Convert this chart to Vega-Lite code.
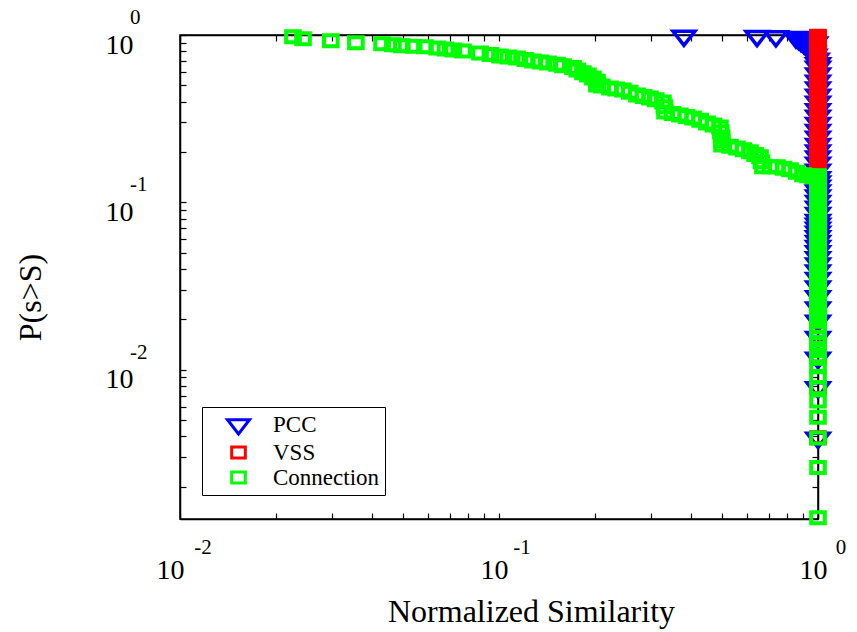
{
  "$schema": "https://vega.github.io/schema/vega-lite/v6.json",
  "width": 638,
  "height": 484,
  "autosize": {"type": "none"},
  "padding": {"left": 180, "top": 35, "right": 39, "bottom": 113},
  "background": "white",
  "config": {
    "view": {"stroke": "black", "strokeWidth": 1.5},
    "font": "'Liberation Serif', 'Times New Roman', Times, serif",
    "axis": {
      "domainColor": "black",
      "domainWidth": 1.5,
      "tickColor": "black",
      "tickWidth": 1.2,
      "tickSize": -6,
      "grid": false,
      "labelColor": "black",
      "labelFont": "'Liberation Serif', 'Times New Roman', Times, serif",
      "labelFontSize": 28,
      "titleFont": "'Liberation Serif', 'Times New Roman', Times, serif",
      "titleFontSize": 32,
      "titleFontWeight": "normal",
      "titleColor": "black",
      "labelFlush": false,
      "labelOverlap": false,
      "labelBound": false
    }
  },
  "datasets": {
    "points": [
      {"series": "PCC", "s": 1, "p": 0.00391},
      {"series": "PCC", "s": 1, "p": 0.00781},
      {"series": "PCC", "s": 1, "p": 0.01172},
      {"series": "PCC", "s": 1, "p": 0.01563},
      {"series": "PCC", "s": 1, "p": 0.01953},
      {"series": "PCC", "s": 1, "p": 0.02344},
      {"series": "PCC", "s": 1, "p": 0.02734},
      {"series": "PCC", "s": 1, "p": 0.03125},
      {"series": "PCC", "s": 1, "p": 0.03516},
      {"series": "PCC", "s": 1, "p": 0.03906},
      {"series": "PCC", "s": 1, "p": 0.04297},
      {"series": "PCC", "s": 1, "p": 0.04688},
      {"series": "PCC", "s": 1, "p": 0.05078},
      {"series": "PCC", "s": 1, "p": 0.05469},
      {"series": "PCC", "s": 1, "p": 0.05859},
      {"series": "PCC", "s": 1, "p": 0.0625},
      {"series": "PCC", "s": 1, "p": 0.06641},
      {"series": "PCC", "s": 1, "p": 0.07031},
      {"series": "PCC", "s": 1, "p": 0.07422},
      {"series": "PCC", "s": 1, "p": 0.07813},
      {"series": "PCC", "s": 1, "p": 0.08594},
      {"series": "PCC", "s": 1, "p": 0.09375},
      {"series": "PCC", "s": 1, "p": 0.10156},
      {"series": "PCC", "s": 1, "p": 0.10938},
      {"series": "PCC", "s": 1, "p": 0.11719},
      {"series": "PCC", "s": 1, "p": 0.125},
      {"series": "PCC", "s": 1, "p": 0.13281},
      {"series": "PCC", "s": 1, "p": 0.14063},
      {"series": "PCC", "s": 1, "p": 0.15625},
      {"series": "PCC", "s": 1, "p": 0.17188},
      {"series": "PCC", "s": 1, "p": 0.1875},
      {"series": "PCC", "s": 1, "p": 0.20313},
      {"series": "PCC", "s": 1, "p": 0.22266},
      {"series": "PCC", "s": 1, "p": 0.24609},
      {"series": "PCC", "s": 1, "p": 0.26953},
      {"series": "PCC", "s": 1, "p": 0.29688},
      {"series": "PCC", "s": 1, "p": 0.32813},
      {"series": "PCC", "s": 1, "p": 0.35938},
      {"series": "PCC", "s": 1, "p": 0.39844},
      {"series": "PCC", "s": 1, "p": 0.4375},
      {"series": "PCC", "s": 1, "p": 0.48438},
      {"series": "PCC", "s": 1, "p": 0.53125},
      {"series": "PCC", "s": 1, "p": 0.58594},
      {"series": "PCC", "s": 1, "p": 0.64453},
      {"series": "PCC", "s": 1, "p": 0.67578},
      {"series": "PCC", "s": 0.99, "p": 0.72},
      {"series": "PCC", "s": 0.975, "p": 0.76},
      {"series": "PCC", "s": 0.965, "p": 0.79},
      {"series": "PCC", "s": 0.953, "p": 0.82},
      {"series": "PCC", "s": 0.94, "p": 0.85},
      {"series": "PCC", "s": 0.925, "p": 0.87},
      {"series": "PCC", "s": 0.904, "p": 0.89},
      {"series": "PCC", "s": 0.885, "p": 0.92},
      {"series": "PCC", "s": 0.87, "p": 0.945},
      {"series": "PCC", "s": 0.853, "p": 0.965},
      {"series": "PCC", "s": 0.9, "p": 0.97},
      {"series": "PCC", "s": 0.95, "p": 0.96},
      {"series": "PCC", "s": 0.98, "p": 0.9},
      {"series": "PCC", "s": 0.738, "p": 0.98},
      {"series": "PCC", "s": 0.644, "p": 0.984},
      {"series": "PCC", "s": 0.38, "p": 0.988},

      {"series": "VSS", "s": 1, "p": 0.00391},
      {"series": "VSS", "s": 1, "p": 0.00781},
      {"series": "VSS", "s": 1, "p": 0.01172},
      {"series": "VSS", "s": 1, "p": 0.01563},
      {"series": "VSS", "s": 1, "p": 0.01953},
      {"series": "VSS", "s": 1, "p": 0.02344},
      {"series": "VSS", "s": 1, "p": 0.02734},
      {"series": "VSS", "s": 1, "p": 0.03125},
      {"series": "VSS", "s": 1, "p": 0.03516},
      {"series": "VSS", "s": 1, "p": 0.03906},
      {"series": "VSS", "s": 1, "p": 0.04297},
      {"series": "VSS", "s": 1, "p": 0.04688},
      {"series": "VSS", "s": 1, "p": 0.05469},
      {"series": "VSS", "s": 1, "p": 0.0625},
      {"series": "VSS", "s": 1, "p": 0.07031},
      {"series": "VSS", "s": 1, "p": 0.07813},
      {"series": "VSS", "s": 1, "p": 0.08594},
      {"series": "VSS", "s": 1, "p": 0.09375},
      {"series": "VSS", "s": 1, "p": 0.10156},
      {"series": "VSS", "s": 1, "p": 0.10938},
      {"series": "VSS", "s": 1, "p": 0.11719},
      {"series": "VSS", "s": 1, "p": 0.125},
      {"series": "VSS", "s": 1, "p": 0.13281},
      {"series": "VSS", "s": 1, "p": 0.14063},
      {"series": "VSS", "s": 1, "p": 0.14844},
      {"series": "VSS", "s": 1, "p": 0.15625},
      {"series": "VSS", "s": 1, "p": 0.16406},
      {"series": "VSS", "s": 1, "p": 0.17188},
      {"series": "VSS", "s": 1, "p": 0.17969},
      {"series": "VSS", "s": 1, "p": 0.1875},
      {"series": "VSS", "s": 1, "p": 0.19531},
      {"series": "VSS", "s": 1, "p": 0.20313},
      {"series": "VSS", "s": 1, "p": 0.21094},
      {"series": "VSS", "s": 1, "p": 0.22266},
      {"series": "VSS", "s": 1, "p": 0.23438},
      {"series": "VSS", "s": 1, "p": 0.24609},
      {"series": "VSS", "s": 1, "p": 0.25781},
      {"series": "VSS", "s": 1, "p": 0.26953},
      {"series": "VSS", "s": 1, "p": 0.28125},
      {"series": "VSS", "s": 1, "p": 0.29688},
      {"series": "VSS", "s": 1, "p": 0.3125},
      {"series": "VSS", "s": 1, "p": 0.32813},
      {"series": "VSS", "s": 1, "p": 0.34375},
      {"series": "VSS", "s": 1, "p": 0.35938},
      {"series": "VSS", "s": 1, "p": 0.37891},
      {"series": "VSS", "s": 1, "p": 0.39844},
      {"series": "VSS", "s": 1, "p": 0.41797},
      {"series": "VSS", "s": 1, "p": 0.4375},
      {"series": "VSS", "s": 1, "p": 0.46094},
      {"series": "VSS", "s": 1, "p": 0.48438},
      {"series": "VSS", "s": 1, "p": 0.50781},
      {"series": "VSS", "s": 1, "p": 0.53125},
      {"series": "VSS", "s": 1, "p": 0.55859},
      {"series": "VSS", "s": 1, "p": 0.58594},
      {"series": "VSS", "s": 1, "p": 0.61328},
      {"series": "VSS", "s": 1, "p": 0.64453},
      {"series": "VSS", "s": 1, "p": 0.67578},
      {"series": "VSS", "s": 1, "p": 0.70703},
      {"series": "VSS", "s": 1, "p": 0.74219},
      {"series": "VSS", "s": 1, "p": 0.77734},
      {"series": "VSS", "s": 1, "p": 0.8125},
      {"series": "VSS", "s": 1, "p": 0.85156},
      {"series": "VSS", "s": 1, "p": 0.89063},
      {"series": "VSS", "s": 1, "p": 0.92969},
      {"series": "VSS", "s": 1, "p": 0.96875},
      {"series": "VSS", "s": 1, "p": 0.98438},

      {"series": "Connection", "s": 1, "p": 0.0013},
      {"series": "Connection", "s": 1, "p": 0.0026},
      {"series": "Connection", "s": 1, "p": 0.0039},
      {"series": "Connection", "s": 1, "p": 0.00519},
      {"series": "Connection", "s": 1, "p": 0.00649},
      {"series": "Connection", "s": 1, "p": 0.00779},
      {"series": "Connection", "s": 1, "p": 0.00909},
      {"series": "Connection", "s": 1, "p": 0.01039},
      {"series": "Connection", "s": 1, "p": 0.01169},
      {"series": "Connection", "s": 1, "p": 0.01299},
      {"series": "Connection", "s": 1, "p": 0.01429},
      {"series": "Connection", "s": 1, "p": 0.01558},
      {"series": "Connection", "s": 1, "p": 0.01688},
      {"series": "Connection", "s": 1, "p": 0.01818},
      {"series": "Connection", "s": 1, "p": 0.01948},
      {"series": "Connection", "s": 1, "p": 0.02078},
      {"series": "Connection", "s": 1, "p": 0.02208},
      {"series": "Connection", "s": 1, "p": 0.02338},
      {"series": "Connection", "s": 1, "p": 0.02468},
      {"series": "Connection", "s": 1, "p": 0.02597},
      {"series": "Connection", "s": 1, "p": 0.02727},
      {"series": "Connection", "s": 1, "p": 0.02857},
      {"series": "Connection", "s": 1, "p": 0.02987},
      {"series": "Connection", "s": 1, "p": 0.03117},
      {"series": "Connection", "s": 1, "p": 0.03247},
      {"series": "Connection", "s": 1, "p": 0.03377},
      {"series": "Connection", "s": 1, "p": 0.03506},
      {"series": "Connection", "s": 1, "p": 0.03636},
      {"series": "Connection", "s": 1, "p": 0.03766},
      {"series": "Connection", "s": 1, "p": 0.03896},
      {"series": "Connection", "s": 1, "p": 0.04156},
      {"series": "Connection", "s": 1, "p": 0.04416},
      {"series": "Connection", "s": 1, "p": 0.04675},
      {"series": "Connection", "s": 1, "p": 0.04935},
      {"series": "Connection", "s": 1, "p": 0.05195},
      {"series": "Connection", "s": 1, "p": 0.05455},
      {"series": "Connection", "s": 1, "p": 0.05714},
      {"series": "Connection", "s": 1, "p": 0.05974},
      {"series": "Connection", "s": 1, "p": 0.06234},
      {"series": "Connection", "s": 1, "p": 0.06494},
      {"series": "Connection", "s": 1, "p": 0.06753},
      {"series": "Connection", "s": 1, "p": 0.07013},
      {"series": "Connection", "s": 1, "p": 0.07273},
      {"series": "Connection", "s": 1, "p": 0.07532},
      {"series": "Connection", "s": 1, "p": 0.07792},
      {"series": "Connection", "s": 1, "p": 0.08182},
      {"series": "Connection", "s": 1, "p": 0.08571},
      {"series": "Connection", "s": 1, "p": 0.08961},
      {"series": "Connection", "s": 1, "p": 0.09351},
      {"series": "Connection", "s": 1, "p": 0.0974},
      {"series": "Connection", "s": 1, "p": 0.1013},
      {"series": "Connection", "s": 1, "p": 0.10519},
      {"series": "Connection", "s": 1, "p": 0.10909},
      {"series": "Connection", "s": 1, "p": 0.11299},
      {"series": "Connection", "s": 1, "p": 0.11688},
      {"series": "Connection", "s": 1, "p": 0.12078},
      {"series": "Connection", "s": 1, "p": 0.12468},
      {"series": "Connection", "s": 1, "p": 0.12857},
      {"series": "Connection", "s": 1, "p": 0.13247},
      {"series": "Connection", "s": 1, "p": 0.13636},
      {"series": "Connection", "s": 1, "p": 0.14026},
      {"series": "Connection", "s": 1, "p": 0.14416},
      {"series": "Connection", "s": 0.9645, "p": 0.142},
      {"series": "Connection", "s": 0.93, "p": 0.144},
      {"series": "Connection", "s": 0.8975, "p": 0.1459},
      {"series": "Connection", "s": 0.857, "p": 0.151},
      {"series": "Connection", "s": 0.817, "p": 0.1563},
      {"series": "Connection", "s": 0.78, "p": 0.16},
      {"series": "Connection", "s": 0.7438, "p": 0.1629},
      {"series": "Connection", "s": 0.71, "p": 0.1629},
      {"series": "Connection", "s": 0.6723, "p": 0.1629},
      {"series": "Connection", "s": 0.665, "p": 0.175},
      {"series": "Connection", "s": 0.658, "p": 0.1869},
      {"series": "Connection", "s": 0.635, "p": 0.193},
      {"series": "Connection", "s": 0.6119, "p": 0.2002},
      {"series": "Connection", "s": 0.584, "p": 0.206},
      {"series": "Connection", "s": 0.5572, "p": 0.2115},
      {"series": "Connection", "s": 0.53, "p": 0.216},
      {"series": "Connection", "s": 0.5001, "p": 0.2204},
      {"series": "Connection", "s": 0.4995, "p": 0.233},
      {"series": "Connection", "s": 0.4985, "p": 0.246},
      {"series": "Connection", "s": 0.496, "p": 0.264},
      {"series": "Connection", "s": 0.4929, "p": 0.2823},
      {"series": "Connection", "s": 0.47, "p": 0.29},
      {"series": "Connection", "s": 0.4487, "p": 0.2983},
      {"series": "Connection", "s": 0.427, "p": 0.309},
      {"series": "Connection", "s": 0.4057, "p": 0.3195},
      {"series": "Connection", "s": 0.387, "p": 0.326},
      {"series": "Connection", "s": 0.3693, "p": 0.333},
      {"series": "Connection", "s": 0.35, "p": 0.34},
      {"series": "Connection", "s": 0.3314, "p": 0.347},
      {"series": "Connection", "s": 0.33, "p": 0.372},
      {"series": "Connection", "s": 0.3266, "p": 0.398},
      {"series": "Connection", "s": 0.31, "p": 0.41},
      {"series": "Connection", "s": 0.2974, "p": 0.4206},
      {"series": "Connection", "s": 0.284, "p": 0.429},
      {"series": "Connection", "s": 0.2708, "p": 0.4384},
      {"series": "Connection", "s": 0.257, "p": 0.455},
      {"series": "Connection", "s": 0.2446, "p": 0.4695},
      {"series": "Connection", "s": 0.233, "p": 0.476},
      {"series": "Connection", "s": 0.2228, "p": 0.483},
      {"series": "Connection", "s": 0.21, "p": 0.495},
      {"series": "Connection", "s": 0.2028, "p": 0.503},
      {"series": "Connection", "s": 0.2028, "p": 0.53},
      {"series": "Connection", "s": 0.197, "p": 0.554},
      {"series": "Connection", "s": 0.19, "p": 0.577},
      {"series": "Connection", "s": 0.1833, "p": 0.595},
      {"series": "Connection", "s": 0.176, "p": 0.618},
      {"series": "Connection", "s": 0.1706, "p": 0.64},
      {"series": "Connection", "s": 0.1587, "p": 0.655},
      {"series": "Connection", "s": 0.152, "p": 0.668},
      {"series": "Connection", "s": 0.1424, "p": 0.681},
      {"series": "Connection", "s": 0.135, "p": 0.69},
      {"series": "Connection", "s": 0.1278, "p": 0.7},
      {"series": "Connection", "s": 0.121, "p": 0.714},
      {"series": "Connection", "s": 0.1139, "p": 0.729},
      {"series": "Connection", "s": 0.107, "p": 0.74},
      {"series": "Connection", "s": 0.1007, "p": 0.749},
      {"series": "Connection", "s": 0.094, "p": 0.765},
      {"series": "Connection", "s": 0.0872, "p": 0.781},
      {"series": "Connection", "s": 0.0771, "p": 0.803},
      {"series": "Connection", "s": 0.0718, "p": 0.814},
      {"series": "Connection", "s": 0.068, "p": 0.825},
      {"series": "Connection", "s": 0.064, "p": 0.836},
      {"series": "Connection", "s": 0.0586, "p": 0.852},
      {"series": "Connection", "s": 0.054, "p": 0.857},
      {"series": "Connection", "s": 0.0496, "p": 0.862},
      {"series": "Connection", "s": 0.0465, "p": 0.875},
      {"series": "Connection", "s": 0.043, "p": 0.886},
      {"series": "Connection", "s": 0.0356, "p": 0.9},
      {"series": "Connection", "s": 0.0297, "p": 0.925},
      {"series": "Connection", "s": 0.0243, "p": 0.95},
      {"series": "Connection", "s": 0.0226, "p": 0.977}
    ],
    "xexp": [
      {"tick": 0.01, "e": "-2"},
      {"tick": 0.1, "e": "-1"},
      {"tick": 1, "e": "0"}
    ],
    "yexp": [
      {"tick": 0.01, "e": "-2"},
      {"tick": 0.1, "e": "-1"},
      {"tick": 1, "e": "0"}
    ]
  },
  "layer": [
    {
      "data": {"name": "points"},
      "transform": [{"filter": "datum.series == 'PCC'"}],
      "mark": {"type": "point", "filled": false, "strokeWidth": 3.5, "size": 484, "opacity": 1},
      "encoding": {
        "x": {
          "field": "s", "type": "quantitative",
          "scale": {"type": "log", "domain": [0.01, 1], "nice": false},
          "axis": {
            "orient": "bottom",
            "values": [0.01, 0.02, 0.03, 0.04, 0.05, 0.06, 0.07, 0.08, 0.09, 0.1, 0.2, 0.3, 0.4, 0.5, 0.6, 0.7, 0.8, 0.9, 1],
            "labelExpr": "datum.value == 0.01 || datum.value == 0.1 || datum.value == 1 ? '10' : ''",
            "labelPadding": 43,
            "labelBaseline": "top",
            "labelOffset": {"expr": "datum.value == 0.01 ? -10 : -5"},
            "title": "Normalized Similarity",
            "titleX": 351,
            "titleY": 102,
            "titleBaseline": "alphabetic"
          }
        },
        "y": {
          "field": "p", "type": "quantitative",
          "scale": {"type": "log", "domain": [0.00128, 1], "nice": false},
          "axis": {
            "orient": "left",
            "values": [0.002, 0.003, 0.004, 0.005, 0.006, 0.007, 0.008, 0.009, 0.01, 0.02, 0.03, 0.04, 0.05, 0.06, 0.07, 0.08, 0.09, 0.1, 0.2, 0.3, 0.4, 0.5, 0.6, 0.7, 0.8, 0.9, 1],
            "labelExpr": "datum.value == 0.01 || datum.value == 0.1 || datum.value == 1 ? '10' : ''",
            "labelPadding": 53,
            "labelAlign": "right",
            "labelBaseline": "middle",
            "labelOffset": 10,
            "title": "P(s>S)",
            "titleAngle": -90,
            "titleX": -140,
            "titleY": 262,
            "titleAlign": "center",
            "titleBaseline": "alphabetic"
          }
        },
        "color": {
          "field": "series", "type": "nominal",
          "scale": {"domain": ["PCC", "VSS", "Connection"], "range": ["#0000ff", "#ff0000", "#00ff00"]},
          "legend": {
            "title": null, "orient": "none", "legendX": 22, "legendY": 372,
            "strokeColor": "black", "fillColor": "white", "padding": 5,
            "symbolSize": 484, "symbolStrokeWidth": 3, "symbolOffset": 19,
            "labelOffset": 22, "labelFontSize": 23, "labelFont": "'Liberation Serif', 'Times New Roman', Times, serif",
            "labelColor": "black", "rowPadding": 0
          }
        },
        "shape": {
          "field": "series", "type": "nominal",
          "scale": {
            "domain": ["PCC", "VSS", "Connection"],
            "range": ["M-1,-0.43L1,-0.43L0,0.86Z", "M-0.62,-0.5H0.62V0.5H-0.62Z", "M-0.62,-0.5H0.62V0.5H-0.62Z"]
          },
          "legend": {
            "title": null, "orient": "none", "legendX": 22, "legendY": 372,
            "strokeColor": "black", "fillColor": "white", "padding": 5,
            "symbolSize": 484, "symbolStrokeWidth": 3, "symbolOffset": 19,
            "labelOffset": 22, "labelFontSize": 23, "labelFont": "'Liberation Serif', 'Times New Roman', Times, serif",
            "labelColor": "black", "rowPadding": 0
          }
        }
      }
    },
    {
      "data": {"name": "points"},
      "transform": [{"filter": "datum.series == 'VSS'"}],
      "mark": {"type": "point", "filled": false, "strokeWidth": 4, "size": 484, "opacity": 1},
      "encoding": {
        "x": {
          "field": "s", "type": "quantitative",
          "scale": {"type": "log", "domain": [0.01, 1], "nice": false},
          "axis": {
            "orient": "top", "labels": false, "title": null,
            "values": [0.01, 0.02, 0.03, 0.04, 0.05, 0.06, 0.07, 0.08, 0.09, 0.1, 0.2, 0.3, 0.4, 0.5, 0.6, 0.7, 0.8, 0.9, 1]
          }
        },
        "y": {
          "field": "p", "type": "quantitative",
          "scale": {"type": "log", "domain": [0.00128, 1], "nice": false},
          "axis": {
            "orient": "right", "labels": false, "title": null,
            "values": [0.002, 0.003, 0.004, 0.005, 0.006, 0.007, 0.008, 0.009, 0.01, 0.02, 0.03, 0.04, 0.05, 0.06, 0.07, 0.08, 0.09, 0.1, 0.2, 0.3, 0.4, 0.5, 0.6, 0.7, 0.8, 0.9, 1]
          }
        },
        "color": {"field": "series", "type": "nominal", "scale": {"domain": ["PCC", "VSS", "Connection"], "range": ["#0000ff", "#ff0000", "#00ff00"]}},
        "shape": {"field": "series", "type": "nominal", "scale": {"domain": ["PCC", "VSS", "Connection"], "range": ["M-1,-0.43L1,-0.43L0,0.86Z", "M-0.62,-0.5H0.62V0.5H-0.62Z", "M-0.62,-0.5H0.62V0.5H-0.62Z"]}}
      }
    },
    {
      "data": {"name": "points"},
      "transform": [{"filter": "datum.series == 'Connection'"}],
      "mark": {"type": "point", "filled": false, "strokeWidth": 4, "size": 484, "opacity": 1},
      "encoding": {
        "x": {"field": "s", "type": "quantitative", "scale": {"type": "log", "domain": [0.01, 1], "nice": false}, "axis": null},
        "y": {"field": "p", "type": "quantitative", "scale": {"type": "log", "domain": [0.00128, 1], "nice": false}, "axis": null},
        "color": {"field": "series", "type": "nominal", "scale": {"domain": ["PCC", "VSS", "Connection"], "range": ["#0000ff", "#ff0000", "#00ff00"]}},
        "shape": {"field": "series", "type": "nominal", "scale": {"domain": ["PCC", "VSS", "Connection"], "range": ["M-1,-0.43L1,-0.43L0,0.86Z", "M-0.62,-0.5H0.62V0.5H-0.62Z", "M-0.62,-0.5H0.62V0.5H-0.62Z"]}}
      }
    },
    {
      "data": {"name": "xexp"},
      "mark": {"type": "text", "font": "'Liberation Serif', 'Times New Roman', Times, serif", "fontSize": 21, "align": "center", "baseline": "middle", "dx": 23, "dy": 29, "color": "black"},
      "encoding": {
        "x": {"field": "tick", "type": "quantitative", "scale": {"type": "log", "domain": [0.01, 1], "nice": false}, "axis": null},
        "y": {"datum": 0.00128, "type": "quantitative", "scale": {"type": "log", "domain": [0.00128, 1], "nice": false}, "axis": null},
        "text": {"field": "e"}
      }
    },
    {
      "data": {"name": "yexp"},
      "mark": {"type": "text", "font": "'Liberation Serif', 'Times New Roman', Times, serif", "fontSize": 21, "align": "left", "baseline": "middle", "dx": -50, "dy": -17, "color": "black"},
      "encoding": {
        "x": {"datum": 0.01, "type": "quantitative", "scale": {"type": "log", "domain": [0.01, 1], "nice": false}, "axis": null},
        "y": {"field": "tick", "type": "quantitative", "scale": {"type": "log", "domain": [0.00128, 1], "nice": false}, "axis": null},
        "text": {"field": "e"}
      }
    }
  ],
  "resolve": {"axis": {"x": "independent", "y": "independent"}}
}
